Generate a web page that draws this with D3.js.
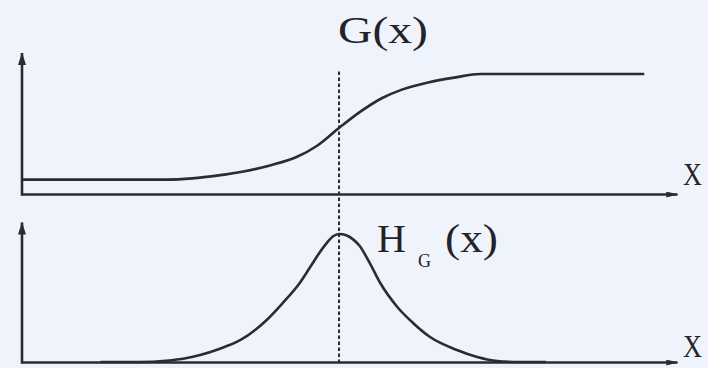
<!DOCTYPE html>
<html>
<head>
<meta charset="utf-8">
<script src="https://cdn.jsdelivr.net/npm/d3@7/dist/d3.min.js"></script>
<style>
  html, body { margin: 0; padding: 0; background: #eff3fb; }
  svg { display: block; }
  text { font-family: "Liberation Serif", "DejaVu Serif", serif; fill: #232328; }
</style>
</head>
<body>
<svg id="chart" width="708" height="368"></svg>
<script>
// Cumulative curve G(x) and its density H_G(x), sampled along a shared x axis (0–100)
const gX = [0, 22, 26, 30, 34, 38, 42, 45, 48.4, 51.5, 55, 58, 62, 66, 70, 95];
const gY = [0.12, 0.12, 0.13, 0.155, 0.19, 0.24, 0.31, 0.40, 0.55, 0.68, 0.80, 0.87, 0.93, 0.97, 1, 1];

const hX = [12, 18, 22, 25, 27.2, 30, 33.3, 37.4, 39.8, 42.4, 44, 45.5, 46.6, 47.5, 48.4, 49.5, 50.5, 51.5, 53.1, 54.7, 57.3, 59.7, 62.3, 66.4, 69.5, 72.2, 76, 80];
const hY = [0, 0, 0.01, 0.03, 0.055, 0.1, 0.17, 0.33, 0.46, 0.617, 0.742, 0.86, 0.935, 0.982, 1, 0.99, 0.96, 0.91, 0.773, 0.617, 0.43, 0.305, 0.195, 0.094, 0.039, 0.01, 0, 0];

// Position of the mode of H_G / inflection of G
const centerX = 48.4;

// Axis labels
const topLabel = "G(x)";
const bottomMain = "H";
const bottomSub = "G";
const bottomArg = "(x)";
const axisLabel = "X";

const svg = d3.select("#chart");
const ink = "#2b2b32";

const x = d3.scaleLinear().domain([0, 100]).range([22, 677]);
const yTop = d3.scaleLinear().domain([0, 1]).range([194, 74]);
const yBot = d3.scaleLinear().domain([0, 1]).range([362, 234]);

// arrowheads (drawn pointing along +x, rotated to the line direction)
const defs = svg.append("defs");
defs.append("marker")
  .attr("id", "arrowV").attr("viewBox", "0 0 16 10")
  .attr("refX", 15).attr("refY", 5)
  .attr("markerWidth", 15).attr("markerHeight", 8)
  .attr("markerUnits", "userSpaceOnUse").attr("orient", "auto")
  .append("path").attr("d", "M0,0 L16,5 L0,10 Z").attr("fill", ink);
defs.append("marker")
  .attr("id", "arrowH").attr("viewBox", "0 0 16 8")
  .attr("refX", 15).attr("refY", 4)
  .attr("markerWidth", 14).attr("markerHeight", 6)
  .attr("markerUnits", "userSpaceOnUse").attr("orient", "auto")
  .append("path").attr("d", "M0,0 L16,4 L0,8 Z").attr("fill", ink);

function panel(yScale, yMax, labelY) {
  const g = svg.append("g");
  // horizontal axis without ticks
  const ax = g.append("g")
    .attr("transform", `translate(0,${yScale(0)})`)
    .call(d3.axisBottom(x).tickValues([]).tickSizeOuter(0));
  ax.select(".domain").attr("stroke", ink).attr("stroke-width", 2.6)
    .attr("marker-end", "url(#arrowH)");
  // vertical axis
  g.append("line")
    .attr("x1", x(0)).attr("x2", x(0))
    .attr("y1", yScale(0) + 1.8).attr("y2", yScale(yMax))
    .attr("stroke", ink).attr("stroke-width", 2.6)
    .attr("marker-end", "url(#arrowV)");
  g.append("text").text(axisLabel)
    .attr("x", 683).attr("y", labelY)
    .attr("font-size", 31)
    .attr("textLength", 19).attr("lengthAdjust", "spacingAndGlyphs");
  return g;
}

panel(yTop, 1.175, 185);
panel(yBot, 1.09, 357);

const lineTop = d3.line().x((d, i) => x(gX[i])).y(d => yTop(d)).curve(d3.curveMonotoneX);
const lineBot = d3.line().x((d, i) => x(hX[i])).y(d => yBot(d)).curve(d3.curveMonotoneX);

svg.append("path").attr("d", lineTop(gY))
  .attr("fill", "none").attr("stroke", ink).attr("stroke-width", 2.6);
svg.append("path").attr("d", lineBot(hY))
  .attr("fill", "none").attr("stroke", ink).attr("stroke-width", 2.6);

// dashed marker through the center of both panels
svg.append("line")
  .attr("x1", x(centerX)).attr("x2", x(centerX))
  .attr("y1", yTop(1.02)).attr("y2", yBot(0))
  .attr("stroke", ink).attr("stroke-width", 2)
  .attr("stroke-dasharray", "3.5,2.5");

// labels
svg.append("text").text(topLabel)
  .attr("x", 338).attr("y", 43).attr("font-size", 38)
  .attr("textLength", 90).attr("lengthAdjust", "spacingAndGlyphs");

svg.append("text").text(bottomMain)
  .attr("x", 377).attr("y", 252).attr("font-size", 40);
svg.append("text").text(bottomSub)
  .attr("x", 418).attr("y", 267).attr("font-size", 18);
svg.append("text").text(bottomArg)
  .attr("x", 445).attr("y", 252).attr("font-size", 40)
  .attr("textLength", 53).attr("lengthAdjust", "spacingAndGlyphs");
</script>
</body>
</html>
